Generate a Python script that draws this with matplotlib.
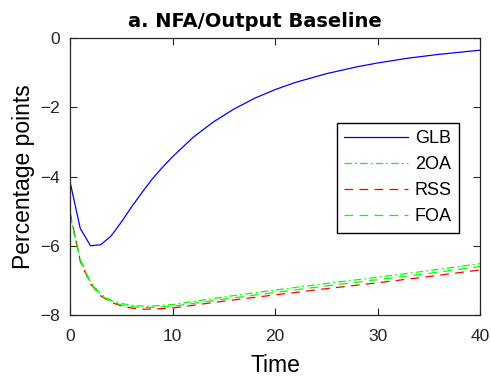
import matplotlib
matplotlib.use("Agg")
import matplotlib.pyplot as plt

# ==============================
# DATA
# ==============================
t_glb = [0, 1, 2, 3, 4, 5, 6, 7, 8, 9, 10, 12, 14, 16, 18, 20, 22, 25, 28, 30, 33, 36, 40]
glb = [-4.15, -5.5, -6.0, -5.97, -5.72, -5.32, -4.88, -4.47, -4.08, -3.74, -3.43,
       -2.87, -2.42, -2.05, -1.74, -1.49, -1.28, -1.03, -0.83, -0.72, -0.58, -0.47, -0.35]

t_low = [0, 1, 2, 3, 4, 5, 6, 7, 8, 10, 15, 20, 25, 30, 35, 40]
oa2 = [-5.1, -6.4, -7.05, -7.4, -7.58, -7.67, -7.72, -7.74, -7.74, -7.7, -7.48,
       -7.28, -7.09, -6.91, -6.72, -6.52]
rss = [-5.03, -6.45, -7.1, -7.45, -7.63, -7.74, -7.8, -7.83, -7.83, -7.8, -7.6,
       -7.42, -7.24, -7.07, -6.89, -6.7]
foa = [-5.1, -6.42, -7.08, -7.43, -7.61, -7.71, -7.76, -7.78, -7.78, -7.75, -7.54,
       -7.35, -7.16, -6.98, -6.8, -6.6]

x_ticks = [0, 10, 20, 30, 40]
y_ticks = [0, -2, -4, -6, -8]

# ==============================
# PLOT
# ==============================
plt.rcParams['font.family'] = ['Liberation Sans', 'DejaVu Sans']

fig = plt.figure(figsize=(4.91, 3.77), dpi=100)
ax = fig.add_axes([0.1426, 0.1645, 0.835, 0.7345])

ax.plot(t_glb, glb, color='#0000ff', lw=0.9, label='GLB')
ax.plot(t_low, oa2, color='#00ff00', lw=0.9, ls=(0, (6, 2.5, 1.5, 2.5)), label='2OA')
ax.plot(t_low, rss, color='#ff0000', lw=0.9, ls=(0, (7, 5)), label='RSS')
ax.plot(t_low, foa, color='#00ff00', lw=0.9, ls=(0, (7, 5)), label='FOA')

ax.set_xlim(0, 40)
ax.set_ylim(-8, 0)
ax.set_xticks(x_ticks)
ax.set_yticks(y_ticks)
ax.tick_params(direction='in', length=5, width=0.8, top=True, right=True,
               labelsize=12.5, colors='#262626')
ax.tick_params(axis='x', pad=10)
ax.tick_params(axis='y', pad=7)
for s in ax.spines.values():
    s.set_color('#262626')
    s.set_linewidth(0.9)

ax.set_xlabel('Time', fontsize=16.5, labelpad=7)
ax.set_ylabel('Percentage points', fontsize=16.5, labelpad=4)
ax.set_title('a. NFA/Output Baseline', fontsize=14, fontweight='bold',
             family='DejaVu Sans', x=0.452, pad=8)

leg = ax.legend(loc='upper right', bbox_to_anchor=(0.949, 0.693), borderaxespad=0,
                fontsize=13, handlelength=3.5, labelspacing=0.5, handletextpad=0.4,
                borderpad=0.4, fancybox=False, framealpha=1)
leg.get_frame().set_edgecolor('black')
leg.get_frame().set_linewidth(1.0)

fig.savefig('out.png', dpi=100)
